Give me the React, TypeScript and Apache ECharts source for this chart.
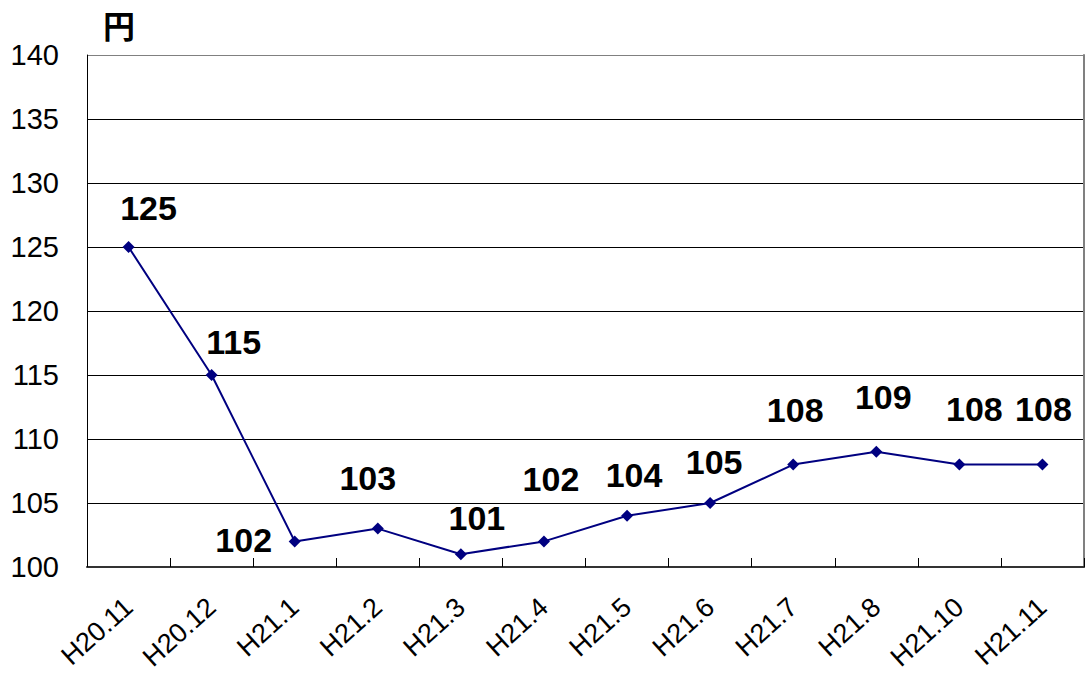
import React, { useEffect, useRef } from "react";
import * as echarts from "echarts";

const categories = ["H20.11", "H20.12", "H21.1", "H21.2", "H21.3", "H21.4", "H21.5", "H21.6", "H21.7", "H21.8", "H21.10", "H21.11"];
const values = [125, 115, 102, 103, 101, 102, 104, 105, 108, 109, 108, 108];
const labelOffsets: [number, number][] = [
  [20, -16], [22, -10], [-51, 22], [-10, -28], [16, -13], [7, -39],
  [7, -18], [4, -18], [2, -32], [7, -32], [15, -33], [1, -33],
];
const unitLabel = "円";

export default function App() {
  const ref = useRef<HTMLDivElement>(null);
  useEffect(() => {
    if (!ref.current) return;
    const chart = echarts.init(ref.current, undefined, { renderer: "svg" });
    const font = "'Liberation Sans', Arial, sans-serif";
    chart.setOption({
      animation: false,
      backgroundColor: "#fff",
      grid: { left: 87, right: 1, top: 55, bottom: 110, containLabel: false },
      graphic: [
        {
          type: "text",
          left: 103,
          top: 8,
          style: { text: unitLabel, font: "bold 32px 'Noto Sans CJK JP', sans-serif", fill: "#000" },
        },
      ],
      xAxis: {
        type: "category",
        data: categories,
        boundaryGap: true,
        axisLine: { lineStyle: { color: "#333", width: 2 } },
        axisTick: { show: true, inside: true, length: 9, lineStyle: { color: "#000", width: 1 } },
        axisLabel: { rotate: 42, fontSize: 27, color: "#000", fontFamily: font, margin: 36, interval: 0 },
      },
      yAxis: [
        {
          type: "value",
          min: 100,
          max: 140,
          interval: 5,
          axisLine: { show: true, lineStyle: { color: "#000", width: 1 } },
          axisTick: { show: false },
          axisLabel: { fontSize: 29, color: "#000", fontFamily: font, margin: 28 },
          splitLine: {
            lineStyle: {
              color: ["#000", "#000", "#000", "#000", "#000", "#000", "#000", "#000", "#808080"],
              width: 1,
            },
          },
        },
        {
          type: "value",
          position: "right",
          min: 100,
          max: 140,
          interval: 5,
          axisLine: { show: true, lineStyle: { color: "#808080", width: 2 } },
          axisTick: { show: false },
          axisLabel: { show: false },
          splitLine: { show: false },
        },
      ],
      series: [
        {
          type: "line",
          data: values.map((v, i) => ({
            value: v,
            label: { offset: labelOffsets[i] },
          })),
          symbol: "diamond",
          symbolSize: 12,
          itemStyle: { color: "#000080" },
          lineStyle: { color: "#000080", width: 2 },
          label: {
            show: true,
            position: "top",
            distance: 0,
            fontSize: 34,
            fontWeight: 600,
            fontFamily: font,
            color: "#000",
          },
        },
      ],
    });
    return () => chart.dispose();
  }, []);
  return <div ref={ref} style={{ position: "absolute", left: 0, top: 0, width: 1085, height: 677 }} />;
}
